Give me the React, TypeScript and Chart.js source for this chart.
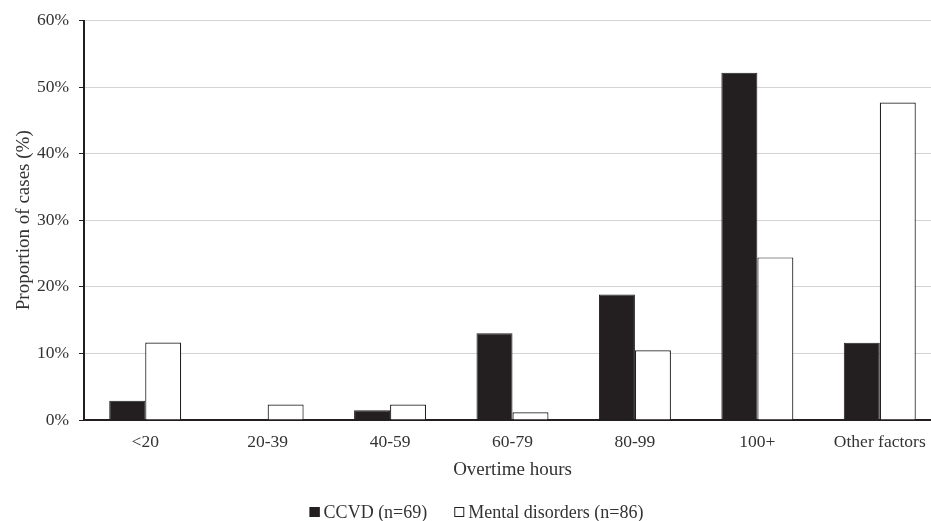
import React, { useEffect, useRef } from "react";
import { Chart, registerables } from "chart.js";

Chart.register(...registerables);

const categories = ["<20", "20-39", "40-59", "60-79", "80-99", "100+", "Other factors"];
const ccvdValues = [2.9, 0, 1.45, 13.04, 18.84, 52.17, 11.59];
const mentalValues = [11.63, 2.33, 2.33, 1.16, 10.47, 24.42, 47.67];
const seriesLabels = ["CCVD (n=69)", "Mental disorders (n=86)"];
const yTicksMax = 60;

const FONT = "'Liberation Serif', 'Times New Roman', serif";
const DARK = "#231f20";
const TEXT = "#333333";

const bottomLegend = {
  id: "bottomLegend",
  afterDraw(chart: any) {
    const ctx = chart.ctx as CanvasRenderingContext2D;
    const box = 10;
    const gapText = 4;
    const gapItem = 27;
    ctx.save();
    ctx.font = `18px ${FONT}`;
    ctx.textBaseline = "middle";
    ctx.textAlign = "left";
    const items = chart.data.datasets.map((ds: any) => ({
      label: ds.label as string,
      fill: ds.backgroundColor as string,
      stroke: ds.borderColor as string,
      w: box + gapText + ctx.measureText(ds.label).width,
    }));
    const total = items.reduce((s: number, it: any) => s + it.w, 0) + gapItem * (items.length - 1);
    let x = chart.width / 2 - total / 2;
    const yc = 512;
    for (const it of items) {
      ctx.fillStyle = it.fill;
      ctx.fillRect(x, yc - box / 2, box, box);
      ctx.strokeStyle = it.stroke;
      ctx.lineWidth = 1;
      ctx.strokeRect(x + 0.5, yc - box / 2 + 0.5, box - 1, box - 1);
      ctx.fillStyle = TEXT;
      ctx.fillText(it.label, x + box + gapText, yc + 1);
      x += it.w + gapItem;
    }
    ctx.restore();
  },
};

export default function App() {
  const ref = useRef<HTMLCanvasElement | null>(null);

  useEffect(() => {
    document.body.style.margin = "0";
    document.body.style.overflow = "hidden";
    const canvas = ref.current;
    if (!canvas) return;
    const chart = new Chart(canvas, {
      type: "bar",
      data: {
        labels: categories,
        datasets: [
          {
            label: seriesLabels[0],
            data: ccvdValues,
            backgroundColor: DARK,
            borderColor: DARK,
            borderWidth: 1,
            categoryPercentage: 0.588,
            barPercentage: 1,
          },
          {
            label: seriesLabels[1],
            data: mentalValues,
            backgroundColor: "#ffffff",
            borderColor: DARK,
            borderWidth: 1.2,
            categoryPercentage: 0.588,
            barPercentage: 1,
          },
        ],
      },
      options: {
        responsive: false,
        animation: false,
        layout: { padding: { top: 20, right: 12, left: 0, bottom: 40 } },
        plugins: {
          tooltip: { enabled: false },
          legend: { display: false },
        },
        scales: {
          x: {
            grid: { display: false, drawTicks: false },
            border: { display: true, color: DARK, width: 2 },
            ticks: {
              font: { family: FONT, size: 17.5 },
              color: TEXT,
              padding: 12,
              maxRotation: 0,
              autoSkip: false,
            },
            title: {
              display: true,
              text: "Overtime hours",
              font: { family: FONT, size: 19 },
              color: TEXT,
              padding: { top: 0, bottom: 0 },
            },
            afterFit: (scale: any) => {
              scale.height = 61;
            },
          },
          y: {
            min: 0,
            max: yTicksMax,
            grid: {
              color: "#d4d4d4",
              lineWidth: 1,
              tickLength: 5,
              tickColor: DARK,
            },
            border: { display: true, color: DARK, width: 2 },
            ticks: {
              stepSize: 10,
              font: { family: FONT, size: 17.5 },
              color: TEXT,
              padding: 10,
              callback: (v: any) => v + "%",
            },
            title: {
              display: true,
              text: "Proportion of cases (%)",
              font: { family: FONT, size: 19 },
              color: TEXT,
              padding: { top: 13, bottom: 0 },
            },
            afterFit: (scale: any) => {
              scale.width = 84;
            },
          },
        },
      },
      plugins: [bottomLegend],
    });
    return () => chart.destroy();
  }, []);

  return (
    <div style={{ width: 931, height: 521, overflow: "hidden", position: "relative" }}>
      <canvas ref={ref} width={953} height={521} style={{ display: "block" }} />
    </div>
  );
}
